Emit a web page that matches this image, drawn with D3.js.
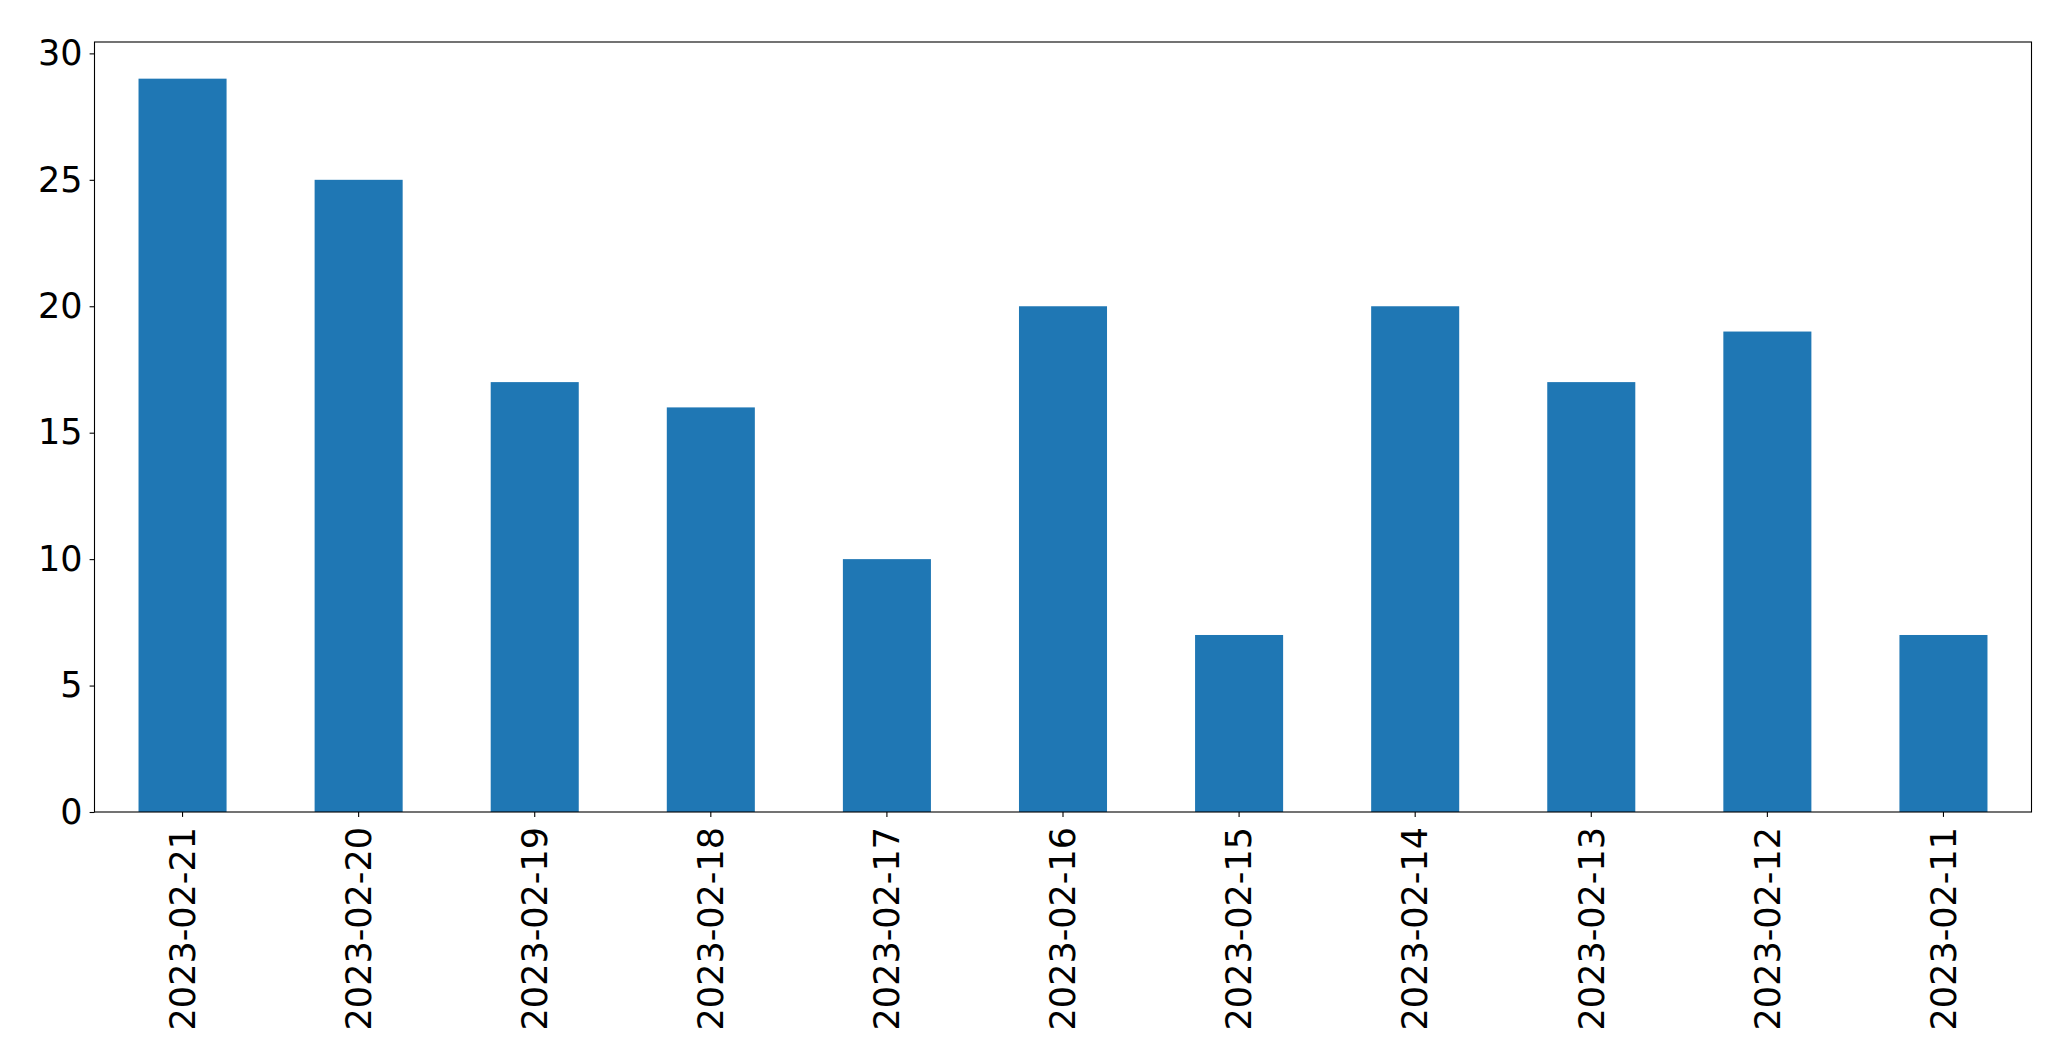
<!DOCTYPE html>
<html><head><meta charset="utf-8">
<script src="https://cdn.jsdelivr.net/npm/d3@7"></script>
<style>html,body{margin:0;padding:0;background:#fff;}svg{display:block;}</style>
</head><body>
<script>
const categories = ["2023-02-21","2023-02-20","2023-02-19","2023-02-18","2023-02-17","2023-02-16","2023-02-15","2023-02-14","2023-02-13","2023-02-12","2023-02-11"];
const values = [29,25,17,16,10,20,7,20,17,19,7];
const yTicks = [0,5,10,15,20,25,30];

const W = 2071, H = 1064;
const m = {left: 94.5, right: 2031.5, top: 42, bottom: 812};
const svg = d3.select("body").append("svg").attr("width", W).attr("height", H);

const x = d3.scaleBand().domain(categories).range([m.left, m.right]).paddingInner(0.5).paddingOuter(0.25);
const y = d3.scaleLinear().domain([0, d3.max(values) * 1.05]).range([m.bottom, m.top]);

svg.append("g").selectAll("rect").data(values).join("rect")
  .attr("x", (d, i) => x(categories[i]))
  .attr("width", x.bandwidth())
  .attr("y", d => y(d))
  .attr("height", d => y(0) - y(d))
  .attr("fill", "#1f77b4");

const font = "DejaVu Sans";
const fs = 35;
const yAxis = svg.append("g").attr("transform", `translate(${m.left},0)`)
  .call(d3.axisLeft(y).tickValues(yTicks).tickSize(4.9).tickPadding(7).tickFormat(d3.format("d")));
yAxis.select(".domain").remove();
yAxis.selectAll("line").attr("stroke", "#000").attr("stroke-width", 1.1);
yAxis.selectAll("text").attr("font-family", font).attr("font-size", fs).attr("fill", "#000");

const xAxis = svg.append("g").attr("transform", `translate(0,${m.bottom})`)
  .call(d3.axisBottom(x).tickSize(4.9).tickPadding(0));
xAxis.select(".domain").remove();
xAxis.selectAll("line").attr("stroke", "#000").attr("stroke-width", 1.1);
xAxis.selectAll("text")
  .attr("font-family", font).attr("font-size", fs).attr("fill", "#000")
  .attr("transform", "translate(0,15) rotate(-90)")
  .attr("text-anchor", "end").attr("dy", "0.35em").attr("x", 0).attr("y", 0);

svg.append("rect").attr("x", m.left).attr("y", m.top)
  .attr("width", m.right - m.left).attr("height", m.bottom - m.top)
  .attr("fill", "none").attr("stroke", "#000").attr("stroke-width", 1.1);
</script>
</body></html>
